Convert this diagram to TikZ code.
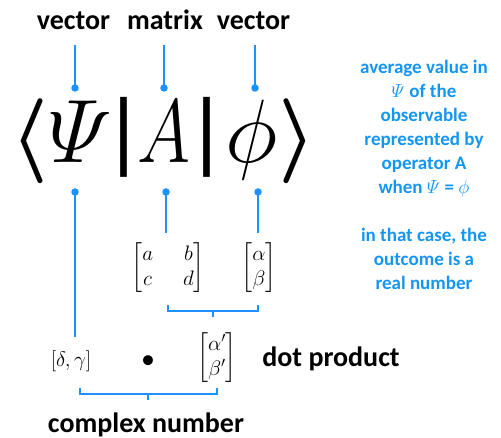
\RequirePackage{fix-cm}
\documentclass[tikz,border=0pt]{standalone}
\usepackage{amsmath}
\usepackage{fontspec}
\setmainfont{Carlito}
\newfontfamily\dejavu{DejaVu Sans}
\definecolor{lineblue}{RGB}{30,144,255}
\definecolor{textblue}{RGB}{20,150,240}
\begin{document}
\begin{tikzpicture}[x=1pt,y=-1pt,
  conn/.style={draw=lineblue,line width=1.8pt},
  dotnode/.style={circle,fill=lineblue,inner sep=0pt,minimum size=7.5pt},
  lbl/.style={font=\fontsize{28}{30}\selectfont\bfseries,inner sep=0pt,anchor=base},
  big/.style={font=\fontsize{90}{90}\selectfont,inner sep=0pt,anchor=base},
  barsty/.style={font=\dejavu\fontsize{80}{80}\selectfont,inner sep=0pt,anchor=base},
  angsty/.style={font=\fontsize{85}{85}\selectfont,inner sep=0pt,anchor=base},
  sm/.style={font=\fontsize{21}{25}\selectfont,inner sep=0pt},
  bracesty/.style={draw=lineblue,line width=1.2pt}
]
\useasboundingbox (0,0) rectangle (501,438);
% top labels
\node[lbl] (lv1) at (73.5,30) {vector};
\node[lbl] (lm) at (165,30) {matrix};
\node[lbl] (lv2) at (253.5,30) {vector};
% big bra-ket
\node[angsty] (la) at (30,163) {$\boldsymbol{\langle}$};
\node[big] (psi) at (80,163) {$\varPsi$};
\node[barsty] (bar1) at (124,159) {\makebox[0pt]{|}};
\node[big] (A) at (164,163) {\scalebox{0.8}[1]{$A$}};
\node[barsty] (bar2) at (207,159) {\makebox[0pt]{|}};
\node[big] (phi) at (252,163) {$\phi$};
\node[angsty] (ra) at (298,163) {$\boldsymbol{\rangle}$};
% dots
\node[dotnode] (t1) at (75,88) {};
\node[dotnode] (t2) at (164,88) {};
\node[dotnode] (t3) at (255,88) {};
\node[dotnode] (b1) at (75,192) {};
\node[dotnode] (b2) at (166,192) {};
\node[dotnode] (b3) at (258,192) {};
\coordinate (t1e) at (75,45);
\coordinate (t2e) at (164,45);
\coordinate (t3e) at (255,45);
\coordinate (b1e) at (75,337);
\coordinate (b2e) at (166,233);
\coordinate (b3e) at (258,233);
\draw[conn] (t1e) -- (t1.center);
\draw[conn] (t2e) -- (t2.center);
\draw[conn] (t3e) -- (t3.center);
\draw[conn] (b1.center) -- (b1e);
\draw[conn] (b2.center) -- (b2e);
\draw[conn] (b3.center) -- (b3e);
% matrices
\node[sm] (mat) at (168,268) {$\arraycolsep=15pt\begin{bmatrix} a & b\\ c & d\end{bmatrix}$};
\node[sm] (vec) at (259,268) {$\begin{bmatrix}\alpha\\ \beta\end{bmatrix}$};
% upper brace
\draw[bracesty] (168,305) -- (168,311) -- (258,311) -- (258,305);
\draw[bracesty] (213,311) -- (213,317);
% lower row
\node[sm] (dg) at (71,361) {$[\delta,\gamma]$};
\node[font=\fontsize{28}{30}\selectfont,inner sep=0pt] (dotp) at (148,362) {•};
\node[sm] (vp) at (217,358) {$\begin{bmatrix}\alpha'\\ \beta'\end{bmatrix}$};
\node[lbl] (dp) at (331,367) {dot product};
% lower brace
\draw[bracesty] (80,388) -- (80,394) -- (217,394) -- (217,388);
\draw[bracesty] (148,394) -- (148,400);
\node[lbl] (cn) at (146,432) {complex number};
% note
\node[font=\fontsize{19}{24}\selectfont\bfseries, text=textblue, align=center, anchor=north, inner sep=0pt] (note) at (424,60)
 {average value in\\ $\varPsi$ of the\\ observable\\ represented by\\ operator A\\ when $\varPsi$ = $\phi$\\[24pt] in that case, the\\ outcome is a\\ real number};
\end{tikzpicture}
\end{document}
